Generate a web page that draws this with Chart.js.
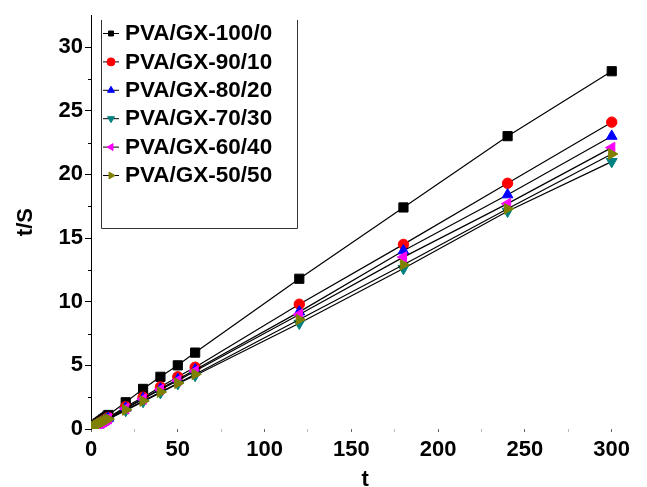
<!DOCTYPE html>
<html>
<head>
<meta charset="utf-8">
<title>t/S vs t</title>
<script src="https://cdn.jsdelivr.net/npm/chart.js@4.4.1/dist/chart.umd.min.js"></script>
<style>
  html, body { margin: 0; padding: 0; background: #fff; }
  #wrap { width: 647px; height: 487px; }
</style>
</head>
<body>
<div id="wrap"><canvas id="kinChart" width="647" height="487"></canvas></div>
<script>
// tiempo (eje x) y t/S para cada mezcla
const tiempos = [1, 2, 3, 4, 5, 6, 7, 8, 9, 10, 20, 30, 40, 50, 60, 120, 180, 240, 300];
const pva100 = [0.15, 0.25, 0.35, 0.46, 0.56, 0.66, 0.76, 0.86, 0.97, 1.1, 2.1, 3.15, 4.1, 5.0, 6.0, 11.8, 17.4, 23.0, 28.1];
const pva90  = [0.12, 0.21, 0.30, 0.38, 0.47, 0.55, 0.64, 0.72, 0.81, 0.9, 1.75, 2.5, 3.3, 4.1, 4.85, 9.8, 14.5, 19.3, 24.1];
const pva80  = [0.11, 0.20, 0.28, 0.36, 0.44, 0.52, 0.60, 0.68, 0.76, 0.85, 1.65, 2.4, 3.15, 3.9, 4.65, 9.2, 14.0, 18.4, 23.0];
const pva70  = [0.10, 0.18, 0.25, 0.32, 0.39, 0.46, 0.53, 0.60, 0.68, 0.76, 1.45, 2.15, 2.85, 3.55, 4.2, 8.3, 12.6, 17.1, 21.0];
const pva60  = [0.11, 0.19, 0.27, 0.35, 0.43, 0.50, 0.58, 0.66, 0.74, 0.82, 1.6, 2.35, 3.1, 3.8, 4.55, 9.0, 13.5, 17.7, 22.1];
const pva50  = [0.10, 0.18, 0.26, 0.33, 0.41, 0.48, 0.55, 0.62, 0.70, 0.78, 1.5, 2.2, 2.9, 3.6, 4.3, 8.6, 12.9, 17.3, 21.6];

const nombres = ['PVA/GX-100/0', 'PVA/GX-90/10', 'PVA/GX-80/20', 'PVA/GX-70/30', 'PVA/GX-60/40', 'PVA/GX-50/50'];
const xTicks = [0, 25, 50, 75, 100, 125, 150, 175, 200, 225, 250, 275, 300];
const yTicks = [0, 5, 10, 15, 20, 25, 30];

const fuente = { family: '"Liberation Sans", Arial, sans-serif', size: 22, weight: 'bold' };

// estilo de marcador por serie
const marcadores = [
  { color: '#000000', style: 'rect', rotation: 0, radius: 6.5 },
  { color: '#ff0000', style: 'circle', rotation: 0, radius: 5.2 },
  { color: '#0000ff', style: 'triangle', rotation: 0, radius: 6.2 },
  { color: '#008080', style: 'triangle', rotation: 180, radius: 6.2 },
  { color: '#ff00ff', style: 'triangle', rotation: 270, radius: 6.2 },
  { color: '#808000', style: 'triangle', rotation: 90, radius: 6.2 }
];
const series = [pva100, pva90, pva80, pva70, pva60, pva50];

const datasets = series.map((valores, i) => ({
  label: nombres[i],
  data: tiempos.map((t, k) => ({ x: t, y: valores[k] })),
  showLine: true,
  borderColor: '#000',
  borderWidth: 1.2,
  pointStyle: marcadores[i].style,
  rotation: marcadores[i].rotation,
  pointRadius: marcadores[i].radius,
  pointBackgroundColor: marcadores[i].color,
  pointBorderColor: marcadores[i].color,
  pointBorderWidth: 1,
  order: series.length - i
}));

// leyenda dibujada a mano: línea corta con marcador y texto
const leyenda = {
  id: 'leyenda',
  afterDraw(chart) {
    const ctx = chart.ctx;
    ctx.save();
    ctx.strokeStyle = '#333';
    ctx.lineWidth = 1;
    ctx.beginPath();
    ctx.moveTo(101.5, 20);
    ctx.lineTo(101.5, 228.5);
    ctx.lineTo(297.5, 228.5);
    ctx.lineTo(297.5, 20);
    ctx.stroke();

    ctx.font = 'bold 22.5px "Liberation Sans", Arial, sans-serif';
    ctx.textBaseline = 'middle';
    ctx.textAlign = 'left';
    nombres.forEach((nombre, i) => {
      const y = 33 + i * 28.4;
      ctx.strokeStyle = '#000';
      ctx.beginPath();
      ctx.moveTo(103, y + 0.5);
      ctx.lineTo(119, y + 0.5);
      ctx.stroke();
      ctx.fillStyle = marcadores[i].color;
      ctx.strokeStyle = marcadores[i].color;
      Chart.helpers.drawPoint(ctx, {
        pointStyle: marcadores[i].style,
        rotation: marcadores[i].rotation,
        radius: marcadores[i].style === 'rect' ? 3.5 : 4,
        borderWidth: 1
      }, 111, y + 0.5);
      ctx.fillStyle = '#000';
      ctx.fillText(nombre, 125, y + 1);
    });
    ctx.restore();
  }
};

// marcas menores del eje y (cada 2.5)
const marcasMenores = {
  id: 'marcasMenores',
  afterDraw(chart) {
    const ctx = chart.ctx;
    const ys = chart.scales.y;
    ctx.save();
    ctx.strokeStyle = '#000';
    ctx.lineWidth = 1;
    for (let v = 2.5; v < 32.5; v += 5) {
      const py = Math.round(ys.getPixelForValue(v)) + 0.5;
      ctx.beginPath();
      ctx.moveTo(ys.right - 3, py);
      ctx.lineTo(ys.right, py);
      ctx.stroke();
    }
    ctx.restore();
  }
};

new Chart(document.getElementById('kinChart'), {
  type: 'scatter',
  data: { datasets: datasets },
  options: {
    responsive: false,
    animation: false,
    layout: { padding: { top: 13, right: 2, left: 0, bottom: 0 } },
    plugins: { legend: { display: false }, tooltip: { enabled: false } },
    scales: {
      x: {
        type: 'linear',
        min: 0,
        max: 316,
        afterBuildTicks: (scale) => { scale.ticks = xTicks.map(v => ({ value: v })); },
        afterFit: (scale) => { scale.height = 58; },
        border: { display: false },
        grid: {
          drawOnChartArea: false,
          tickLength: 3,
          tickColor: (c) => (c.tick && c.tick.value % 50 === 0) ? '#666' : '#bbb'
        },
        ticks: {
          color: '#000',
          font: fuente,
          padding: 5,
          maxRotation: 0,
          callback: (v) => (v % 50 === 0 ? v : '')
        },
        title: { display: true, text: 't', color: '#000', font: fuente, padding: { top: 0, bottom: -6 } }
      },
      y: {
        type: 'linear',
        min: 0,
        max: 32.5,
        afterBuildTicks: (scale) => { scale.ticks = yTicks.map(v => ({ value: v })); },
        afterFit: (scale) => { scale.width = 91; },
        border: { display: true, color: '#000', width: 1 },
        grid: { drawOnChartArea: false, tickLength: 6, tickColor: '#000' },
        ticks: { color: '#000', font: fuente, padding: 2 },
        title: { display: true, text: 't/S', color: '#000', font: fuente, padding: { top: 13, bottom: 0 } }
      }
    }
  },
  plugins: [leyenda, marcasMenores]
});
</script>
</body>
</html>
